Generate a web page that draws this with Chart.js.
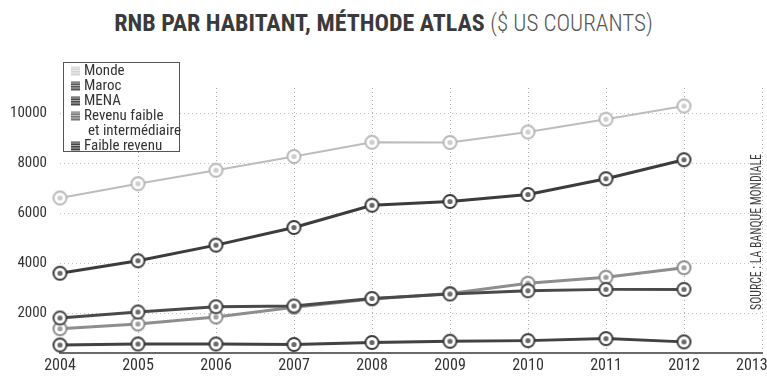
<!DOCTYPE html>
<html lang="fr">
<head>
<meta charset="utf-8">
<title>RNB par habitant, méthode Atlas</title>
<script src="https://cdn.jsdelivr.net/npm/chart.js@4.4.1/dist/chart.umd.min.js"></script>
<style>
  html, body { margin: 0; padding: 0; background: #fff; }
  #wrap { position: relative; width: 767px; height: 376px; overflow: hidden; }
  #title {
    position: absolute; left: 0; top: 9px; width: 767px; text-align: center;
    font-family: "Roboto Condensed", "Roboto", sans-serif; font-stretch: condensed;
    font-size: 24px; color: #3a3a3a; white-space: nowrap;
  }
  #title b { font-weight: bold; }
  #title span { font-weight: 300; color: #555; font-size: 23px; }
  canvas { position: absolute; left: 0; top: 0; }
</style>
</head>
<body>
<div id="wrap">
  <div id="title"><b>RNB PAR HABITANT, MÉTHODE ATLAS</b> <span>($ US COURANTS)</span></div>
  <canvas id="c" width="767" height="376"></canvas>
</div>
<script>
// Years on the horizontal axis (2013 is shown as an empty column)
const years = ['2004', '2005', '2006', '2007', '2008', '2009', '2010', '2011', '2012', '2013'];

// GNI per capita, Atlas method (current US$)
const monde = [6600, 7170, 7710, 8260, 8830, 8820, 9240, 9750, 10280];
const maroc = [3590, 4090, 4715, 5420, 6310, 6460, 6740, 7370, 8130];
const mena = [1800, 2040, 2250, 2280, 2580, 2760, 2890, 2945, 2945];
const revenuFaibleInter = [1370, 1560, 1840, 2230, 2560, 2780, 3190, 3430, 3810];
const faibleRevenu = [720, 760, 760, 740, 820, 870, 895, 975, 845];

// Value axis ticks
const yTicks = [2000, 4000, 6000, 8000, 10000];

const seriesNames = ['Monde', 'Maroc', 'MENA', 'Revenu faible\net intermédiaire', 'Faible revenu'];
const sourceText = 'SOURCE : LA BANQUE MONDIALE';

const FONT = '"Roboto Condensed", "Roboto", sans-serif';

// Ring-with-dot marker drawn once per colour
function ringMarker(ring, dot, r) {
  const s = r * 2 + 6;
  const c = document.createElement('canvas');
  c.width = s; c.height = s;
  const g = c.getContext('2d');
  g.beginPath();
  g.arc(s / 2, s / 2, r, 0, Math.PI * 2);
  g.fillStyle = '#fff';
  g.fill();
  g.lineWidth = 2;
  g.strokeStyle = ring;
  g.stroke();
  g.beginPath();
  g.arc(s / 2, s / 2, r * 0.4, 0, Math.PI * 2);
  g.fillStyle = dot;
  g.fill();
  return c;
}

const styles = [
  { line: '#bdbdbd', width: 2, marker: ringMarker('#b8b8b8', '#cfcfcf', 6.5), swatch: '#d4d4d4' },
  { line: '#3c3c3c', width: 3, marker: ringMarker('#3a3a3a', '#6a6a6a', 6.5), swatch: '#555' },
  { line: '#4a4a4a', width: 3, marker: ringMarker('#444', '#6e6e6e', 6.5), swatch: '#4a4a4a' },
  { line: '#8e8e8e', width: 3, marker: ringMarker('#8a8a8a', '#a0a0a0', 6.5), swatch: '#777' },
  { line: '#424242', width: 3, marker: ringMarker('#3c3c3c', '#6a6a6a', 6.5), swatch: '#444' }
];

const values = [monde, maroc, mena, revenuFaibleInter, faibleRevenu];

const datasets = values.map((v, i) => ({
  label: seriesNames[i],
  data: v,
  borderColor: styles[i].line,
  borderWidth: styles[i].width,
  pointStyle: styles[i].marker,
  pointRadius: 8,
  pointHoverRadius: 8,
  tension: 0,
  fill: false
}));

// Boxed legend in the upper-left corner and the vertical source note
const extras = {
  id: 'extras',
  afterDraw(chart) {
    const ctx = chart.ctx;
    ctx.save();
    const bx = 63.5, by = 62.5, bw = 116, bh = 89;
    ctx.fillStyle = '#fff';
    ctx.fillRect(bx, by, bw, bh);
    ctx.strokeStyle = '#555';
    ctx.lineWidth = 1;
    ctx.strokeRect(bx, by, bw, bh);
    ctx.font = '15px ' + FONT;
    ctx.textBaseline = 'middle';
    let y = 71;
    chart.data.datasets.forEach((ds, i) => {
      const lines = ds.label.split('\n');
      ctx.fillStyle = styles[i].swatch;
      ctx.fillRect(71, y - 4.5, 9, 9);
      ctx.strokeStyle = 'rgba(255,255,255,0.8)';
      ctx.lineWidth = 0.7;
      for (let k = 1.5; k < 9; k += 2.5) {
        ctx.beginPath();
        ctx.moveTo(71, y - 4.5 + k);
        ctx.lineTo(80, y - 4.5 + k);
        ctx.stroke();
      }
      ctx.fillStyle = '#333';
      lines.forEach((t, j) => {
        ctx.fillText(t, j === 0 ? 84 : 88, y + j * 15);
      });
      y += 15 * lines.length;
    });
    // source note, reading bottom to top
    ctx.translate(757, 232);
    ctx.rotate(-Math.PI / 2);
    ctx.scale(0.84, 1);
    ctx.font = '14px ' + FONT;
    ctx.textAlign = 'center';
    ctx.fillStyle = '#3c3c3c';
    ctx.fillText(sourceText, 0, 0);
    ctx.restore();
  }
};

new Chart(document.getElementById('c'), {
  type: 'line',
  data: { labels: years, datasets },
  options: {
    responsive: false,
    animation: false,
    layout: { autoPadding: false, padding: { top: 88, right: 5, left: 0, bottom: 0 } },
    plugins: { legend: { display: false }, tooltip: { enabled: false } },
    scales: {
      x: {
        type: 'category',
        offset: false,
        afterFit(scale) { scale.height = 23; scale.paddingRight = 0; scale.paddingLeft = 0; },
        grid: {
          drawTicks: false,
          color: (c) => (c.index === 0 ? 'rgba(0,0,0,0)' : 'rgba(120,120,120,0.6)'),
          lineWidth: 1
        },
        border: { display: true, color: '#6a6a6a', width: 2, dash: [1, 3] },
        ticks: {
          color: '#333',
          font: { family: FONT, size: 16 },
          padding: 3,
          maxRotation: 0,
          autoSkip: false,
          // last year label is nudged left so it stays on the canvas
          callback: (v, i) => (i === years.length - 1 ? years[i] + '\u2002\u2002\u2009\u2009' : years[i])
        }
      },
      y: {
        min: 400,
        max: 11000,
        afterBuildTicks(scale) { scale.ticks = yTicks.map((v) => ({ value: v })); },
        afterFit(scale) { scale.width = 60; },
        grid: { drawTicks: false, color: 'rgba(120,120,120,0.45)', lineWidth: 1 },
        border: { display: false, dash: [1, 3] },
        ticks: {
          color: '#333',
          font: { family: FONT, size: 15 },
          padding: 13,
          callback: (v) => String(v)
        }
      }
    }
  },
  plugins: [extras]
});
</script>
</body>
</html>
